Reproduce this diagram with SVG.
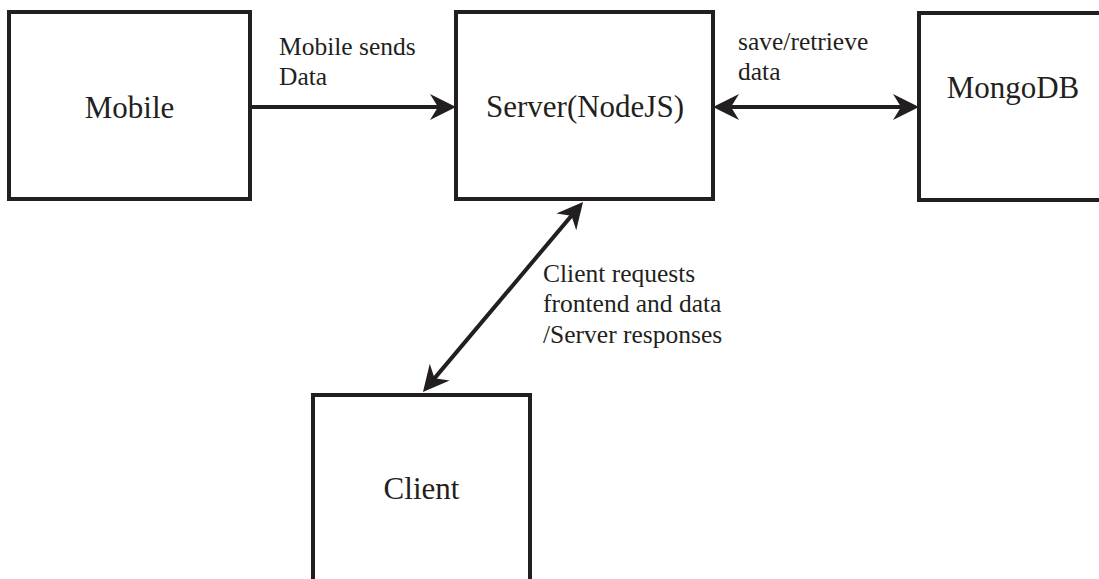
<svg xmlns="http://www.w3.org/2000/svg" width="1099" height="579" viewBox="0 0 1099 579">
<style>
.box{fill:#fff;stroke:#231f20;stroke-width:4}
.conn{stroke:#231f20;stroke-width:4;fill:none}
.t{fill:#231f20}
.big{font-size:31px}
.lbl{font-size:25.5px}
</style>
<defs>
<marker id="ah" markerUnits="userSpaceOnUse" markerWidth="30" markerHeight="30" viewBox="0 -15 30 30" refX="16" refY="0" orient="auto-start-reverse">
<path d="M26,0 L0,-13 L8,0 L0,13 Z" fill="#231f20"/>
</marker>
</defs>
<rect width="1099" height="579" fill="#fff"/>
<g font-family="Liberation Serif, Tinos, Times New Roman, DejaVu Serif, serif">
<g id="mobile">
<rect class="box" x="9" y="12" width="241" height="187"/>
<text class="t big" x="129.5" y="118" text-anchor="middle">Mobile</text>
</g>
<g id="server">
<rect class="box" x="456" y="12" width="257" height="187"/>
<text class="t big" x="585" y="117" text-anchor="middle">Server(NodeJS)</text>
</g>
<g id="mongodb">
<rect class="box" x="919" y="13" width="200" height="187"/>
<text class="t big" x="1013" y="98" text-anchor="middle">MongoDB</text>
</g>
<g id="client">
<rect class="box" x="313" y="395" width="217" height="210"/>
<text class="t big" x="421.5" y="499" text-anchor="middle">Client</text>
</g>
<g id="connectors">
<line class="conn" x1="250" y1="107" x2="446" y2="107" marker-end="url(#ah)"/>
<line class="conn" x1="723" y1="107" x2="909" y2="107" marker-start="url(#ah)" marker-end="url(#ah)"/>
<line class="conn" x1="576.6" y1="209.6" x2="429.4" y2="384.4" marker-start="url(#ah)" marker-end="url(#ah)"/>
<text class="t lbl" x="279" y="55">Mobile sends</text>
<text class="t lbl" x="279" y="85">Data</text>
<text class="t lbl" x="738" y="50">save/retrieve</text>
<text class="t lbl" x="738" y="80">data</text>
<text class="t lbl" x="543" y="282">Client requests</text>
<text class="t lbl" x="543" y="312">frontend and data</text>
<text class="t lbl" x="543" y="343">/Server responses</text>
</g>
</g>
</svg>
